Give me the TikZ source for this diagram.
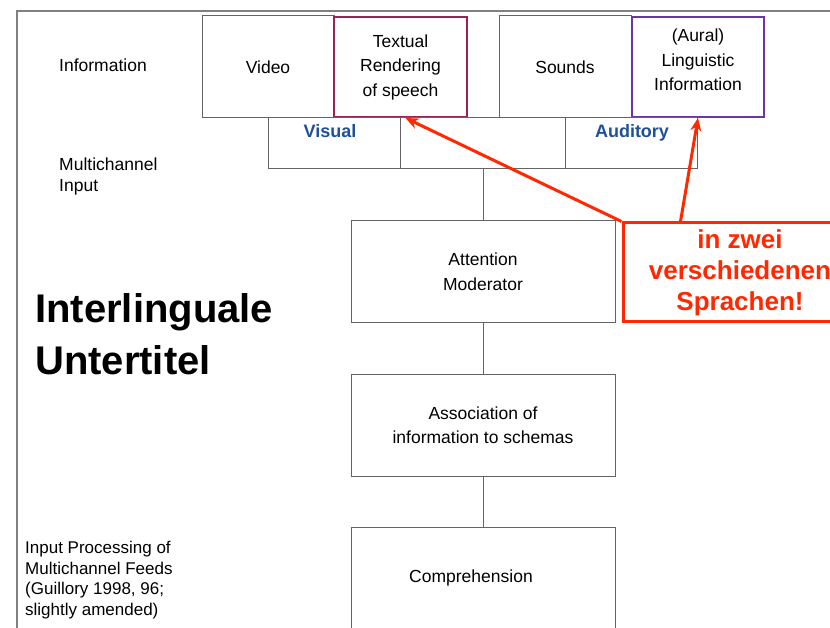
\documentclass[tikz,border=0pt]{standalone}
\usepackage{fontspec}
\setmainfont{Liberation Sans}
\usetikzlibrary{positioning,arrows.meta}
\definecolor{warnred}{RGB}{255,40,0}
\definecolor{chanblue}{RGB}{30,80,155}
\definecolor{textmaroon}{RGB}{155,34,87}
\definecolor{auralpurple}{RGB}{107,53,168}
\definecolor{framegray}{RGB}{128,128,128}
\definecolor{boxgray}{RGB}{100,100,100}
\tikzset{
	box/.style={draw=boxgray, line width=1pt, minimum width=264pt, minimum height=102pt, inner sep=0pt, align=center, font=\fontsize{17.5}{24.5}\selectfont},
	infobox/.style={box, minimum width=132pt},
	chanlabel/.style={anchor=base, inner sep=0pt, text=chanblue, font=\fontsize{18}{22}\selectfont\bfseries},
	sidetext/.style={inner sep=0pt, anchor=west, align=left, font=\fontsize{17.5}{21}\selectfont},
	redarrow/.style={warnred, line width=3pt, -{Stealth[length=13pt,width=11pt]}}
}
\begin{document}
\begin{tikzpicture}[x=1pt,y=-1pt]
	\useasboundingbox (0,0) rectangle (830,628);
	\clip (0,0) rectangle (830,628);

	%frame
	\draw[framegray, line width=1.5pt] (17,628) -- (17,11) -- (830,11);

	%information
	\node[infobox](video) at (268,67) {Video};
	\node[infobox, draw=textmaroon, line width=2pt, minimum width=133pt, minimum height=100pt](textual) at (400.5,67)
	{Textual\\Rendering\\of speech};
	\node[infobox](sounds) at (565,67) {Sounds};
	\node[infobox, draw=auralpurple, line width=2pt, minimum height=100pt,
	 label={[yshift=7pt, align=center, font=\fontsize{17.5}{24.5}\selectfont]center:(Aural)\\Linguistic\\Information}](aural) at (698,67)
	{};

	%multichannel input
	\node[box, minimum width=429pt, minimum height=51pt](input) at (483,143.5) {};
	\draw[boxgray, line width=1pt] (input.north -| textual.south) -- (input.south -| textual.south);
	\draw[boxgray, line width=1pt] (input.north -| sounds.south) -- (input.south -| sounds.south);
	\node[chanlabel](visual) at (330,137.5) {Visual};
	\node[chanlabel](auditory) at (632,137.5) {Auditory};

	%processing
	\node[box](attention) at (483,271.5) {Attention\\Moderator};
	\node[box](association) at (483,425) {Association of\\information to schemas};
	\node[box, label={[xshift=-12pt, font=\fontsize{17.5}{21}\selectfont]center:Comprehension}](compr) at (483,578) {};

	\draw[boxgray, line width=1pt] (input.south) -- (attention.north);
	\draw[boxgray, line width=1pt] (attention.south) -- (association.north);
	\draw[boxgray, line width=1pt] (association.south) -- (compr.north);

	%side texts
	\node[sidetext](info) at (59,65) {Information};
	\node[sidetext](multi) at (59,176) {Multichannel\\Input};
	\node[sidetext, font=\fontsize{40}{52}\selectfont\bfseries](title) at (35,334) {Interlinguale\\Untertitel};
	\node[sidetext, font=\fontsize{17}{20.7}\selectfont](source) at (25,580)
	{Input Processing of\\Multichannel Feeds\\(Guillory 1998, 96;\\slightly amended)};

	%zwei sprachen
	\node[draw=warnred, line width=3pt, minimum width=234pt, minimum height=99pt, align=center, text=warnred,
	 font=\fontsize{26}{31}\selectfont\bfseries](sprachen) at (740,272.5)
	{in zwei\\verschiedenen\\Sprachen!};
	\draw[redarrow] (sprachen.north west) -- ([xshift=5pt]textual.south);
	\draw[redarrow] ([xshift=59pt]sprachen.north west) -- (aural.south);

\end{tikzpicture}
\end{document}
